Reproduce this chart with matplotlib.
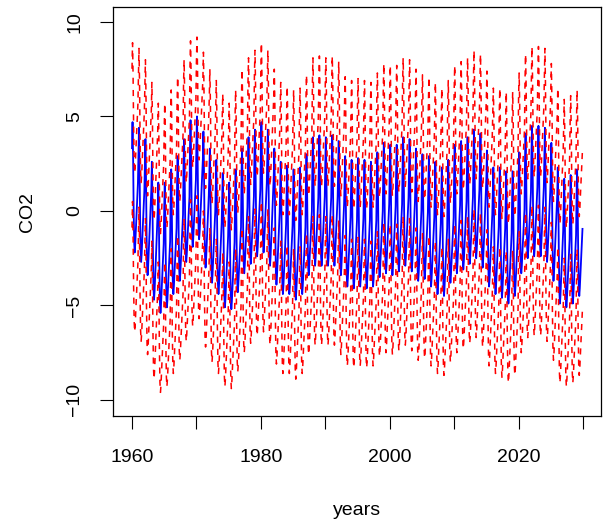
import numpy as np
import matplotlib
matplotlib.use("Agg")
import matplotlib.pyplot as plt

# yearly seasonal peaks and troughs of the CO2 component, 1960-2029
years = np.arange(1960, 2030)
peaks = [4.7, 4.4, 3.8, 2.6, 1.5, 1.5, 2.2, 2.9, 3.8, 4.8,
         5.0, 4.2, 3.3, 2.7, 2.0, 1.5, 2.2, 3.3, 3.9, 4.3,
         4.7, 4.3, 3.3, 2.6, 2.4, 2.2, 2.3, 3.0, 3.9, 4.0,
         3.9, 4.0, 3.7, 2.9, 2.7, 2.8, 2.7, 2.6, 3.1, 3.6,
         3.5, 3.5, 3.9, 3.8, 3.3, 3.0, 2.9, 2.6, 2.3, 2.7,
         3.5, 3.7, 3.9, 4.3, 4.1, 3.2, 2.3, 2.3, 2.1, 2.1,
         3.1, 4.1, 4.5, 4.5, 4.4, 3.6, 2.3, 1.7, 1.9, 2.2]
troughs = [-2.2, -2.7, -3.4, -4.7, -5.4, -5.1, -4.4, -3.7, -2.7, -1.9,
           -1.5, -3.0, -3.8, -4.4, -5.1, -5.2, -4.3, -3.3, -2.8, -2.4,
           -2.2, -2.9, -3.9, -4.4, -4.4, -4.7, -4.4, -3.4, -2.9, -2.9,
           -2.9, -2.9, -3.4, -4.0, -4.1, -4.0, -4.1, -4.0, -3.5, -3.3,
           -3.4, -3.2, -2.9, -3.2, -3.7, -3.6, -4.0, -4.4, -4.5, -3.8,
           -3.3, -3.1, -2.8, -2.5, -3.0, -4.0, -4.4, -4.6, -4.9, -4.5,
           -3.3, -2.5, -2.4, -2.4, -2.7, -3.7, -4.9, -5.1, -4.9, -4.5]
# position of each month between trough (0) and peak (1)
month_shape = [0.8, 1.0, 0.75, 0.35, 0.08, 0.0, 0.06, 0.15, 0.25, 0.35, 0.45, 0.53]
band = 4.2

t = []
co2 = []
for yr, hi, lo in zip(years, peaks, troughs):
    for m, s in enumerate(month_shape):
        t.append(yr + m / 12)
        co2.append(lo + s * (hi - lo))
t = np.array(t)
co2 = np.array(co2)

plt.rcParams['font.family'] = ['Liberation Sans', 'DejaVu Sans']
plt.rcParams['font.size'] = 14

fig = plt.figure(figsize=(6.05, 5.22), dpi=100)
ax = fig.add_axes([113 / 605, 1 - 416 / 522, 488 / 605, 409 / 522])

ax.plot(t, co2, color='blue', lw=1.3)
ax.plot(t, co2 + band, color='red', lw=1.1, ls=(0, (4, 4)))
ax.plot(t, co2 - band, color='red', lw=1.1, ls=(0, (4, 4)))

ax.set_xlim(1957.05, 2032.79)
ax.set_ylim(-10.85, 10.79)

xt = np.arange(1960, 2031, 10)
ax.set_xticks(xt)
ax.set_xticklabels([str(v) if v % 20 == 0 else '' for v in xt])
ax.set_yticks([-10, -5, 0, 5, 10])
ax.set_yticklabels(['\u221210', '\u22125', '0', '5', '10'], rotation=90, va='center')
ax.tick_params(length=9.5, width=0.8, pad=14)
ax.tick_params(axis='y', pad=12)

ax.set_xlabel('years', labelpad=26)
ax.set_ylabel('CO2', labelpad=22)
for s in ax.spines.values():
    s.set_linewidth(0.9)

fig.savefig('out.png', dpi=100)
